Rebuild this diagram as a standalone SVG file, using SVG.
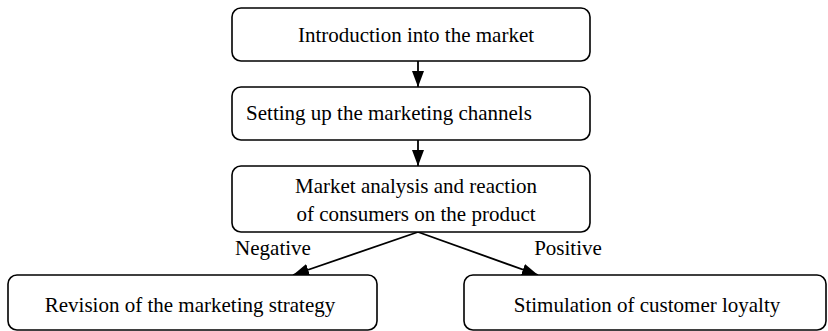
<svg xmlns="http://www.w3.org/2000/svg" width="828" height="331" viewBox="0 0 828 331">
<defs>
<style>
.box{fill:#fff;stroke:#000;stroke-width:1.6}
.t{font-family:'Liberation Serif','Times New Roman',Times,serif;font-size:21px;fill:#000;text-anchor:middle}
.c{stroke:#000;stroke-width:1.8;fill:none}
</style>
<marker id="ah" markerWidth="16" markerHeight="14" refX="16" refY="7" orient="auto" markerUnits="userSpaceOnUse" viewBox="0 0 16 14">
<path d="M0,1 L16,7 L0,13 z" fill="#000"/>
</marker>
</defs>
<g id="connectors">
<line class="c" x1="418" y1="61" x2="418" y2="87" marker-end="url(#ah)"/>
<line class="c" x1="418" y1="140" x2="418" y2="166" marker-end="url(#ah)"/>
<line class="c" x1="418" y1="232" x2="293" y2="275" marker-end="url(#ah)"/>
<line class="c" x1="418" y1="232" x2="538" y2="275" marker-end="url(#ah)"/>
<text class="t" x="273" y="255">Negative</text>
<text class="t" x="568" y="255">Positive</text>
</g>
<g id="n1">
<rect class="box" x="232" y="8" width="358" height="53" rx="9"/>
<text class="t" x="416" y="42">Introduction into the market</text>
</g>
<g id="n2">
<rect class="box" x="232" y="87" width="358" height="53" rx="9"/>
<text class="t" x="389" y="120">Setting up the marketing channels</text>
</g>
<g id="n3">
<rect class="box" x="232" y="166" width="358" height="66" rx="9"/>
<text class="t" x="416" y="193">Market analysis and reaction</text>
<text class="t" x="416" y="221">of consumers on the product</text>
</g>
<g id="n4">
<rect class="box" x="8" y="275" width="369" height="55" rx="9"/>
<text class="t" x="190" y="312">Revision of the marketing strategy</text>
</g>
<g id="n5">
<rect class="box" x="464" y="275" width="362" height="55" rx="9"/>
<text class="t" x="647" y="312">Stimulation of customer loyalty</text>
</g>
</svg>
